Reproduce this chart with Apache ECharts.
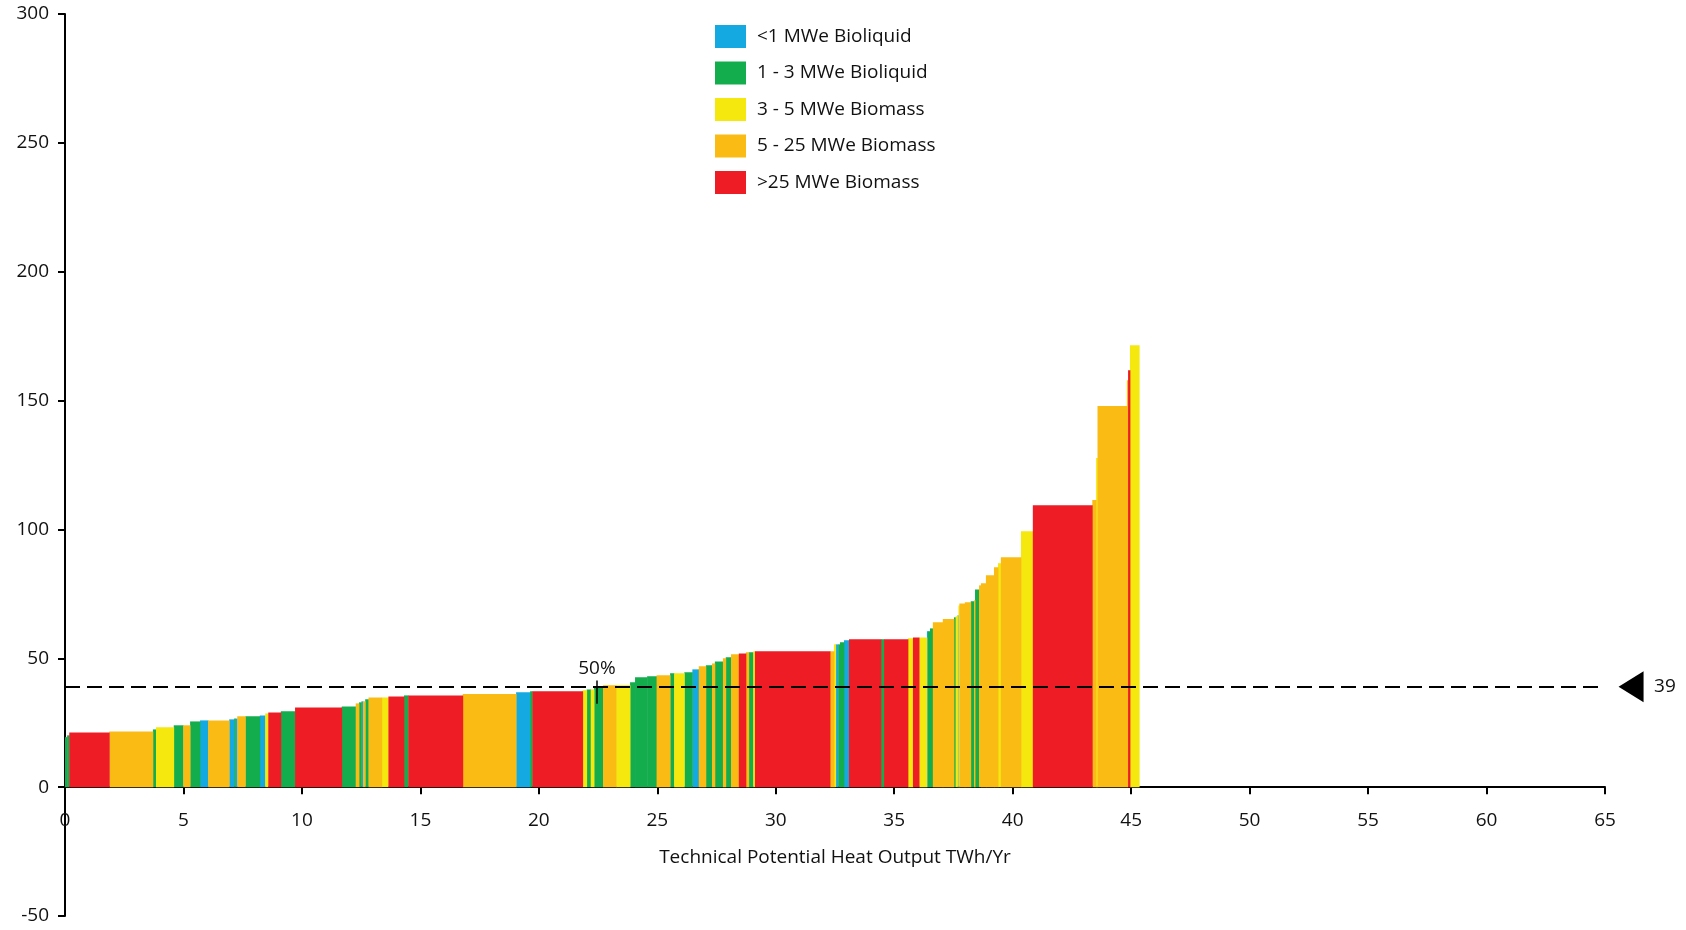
<!DOCTYPE html>
<html>
<head>
<meta charset="utf-8">
<script src="https://cdn.jsdelivr.net/npm/echarts@6/dist/echarts.min.js"></script>
<style>
  html, body { margin: 0; padding: 0; background: #fff; }
  #chart { width: 1686px; height: 930px; }
</style>
</head>
<body>
<div id="chart"></div>
<script>
// plant size bands
var categories = ['<1 MWe Bioliquid', '1 - 3 MWe Bioliquid', '3 - 5 MWe Biomass', '5 - 25 MWe Biomass', '>25 MWe Biomass'];
var colors = ['#14a9e0', '#14ad4e', '#f4e80f', '#fbbb15', '#ed1c25'];

// each band: heat output (TWh/Yr) = bar width, cost = bar height, type = category index
var widths = [
  0.09, 0.09, 1.69, 1.84, 0.13, 0.75, 0.40, 0.29, 0.42, 0.34,
  0.89, 0.21, 0.04, 0.09, 0.34, 0.61, 0.23, 0.13, 0.53, 0.60,
  1.97, 0.59, 0.14, 0.10, 0.07, 0.09, 0.14, 0.56, 0.28, 0.66,
  0.18, 2.30, 2.25, 0.59, 0.10, 2.12, 0.17, 0.17, 0.14, 0.38,
  0.55, 0.59, 0.21, 0.51, 0.40, 0.57, 0.17, 0.43, 0.34, 0.27,
  0.30, 0.26, 0.12, 0.34, 0.12, 0.22, 0.33, 0.30, 0.12, 0.19,
  0.07, 3.17, 0.17, 0.07, 0.11, 0.07, 0.17, 0.21, 1.35, 0.13,
  1.01, 0.21, 0.26, 0.33, 0.04, 0.09, 0.12, 0.42, 0.47, 0.07,
  0.08, 0.04, 0.04, 0.23, 0.25, 0.14, 0.04, 0.17, 0.08, 0.21,
  0.34, 0.17, 0.12, 0.85, 0.50, 2.51, 0.16, 0.06, 1.24, 0.05,
  0.08, 0.39
];
var heights = [
  19.4, 20.1, 21.2, 21.6, 22.4, 23.2, 24.0, 24.0, 25.5, 25.9,
  25.9, 26.3, 26.6, 26.6, 27.5, 27.5, 27.8, 28.6, 29.0, 29.4,
  30.9, 31.3, 32.5, 32.9, 33.3, 33.3, 34.1, 34.8, 34.8, 35.2,
  35.6, 35.6, 36.1, 36.8, 37.2, 37.2, 37.6, 37.9, 37.9, 38.7,
  39.5, 39.5, 40.7, 42.6, 43.0, 43.4, 44.2, 44.2, 44.6, 45.7,
  46.9, 47.3, 48.0, 48.8, 50.0, 50.4, 51.6, 51.9, 52.3, 52.3,
  52.7, 52.7, 52.7, 55.4, 55.4, 55.4, 56.2, 57.0, 57.4, 57.4,
  57.4, 57.8, 58.1, 58.1, 60.5, 60.5, 61.6, 64.0, 65.2, 65.9,
  66.3, 66.7, 70.5, 71.3, 71.7, 72.1, 72.5, 76.7, 78.3, 79.1,
  82.2, 85.3, 86.9, 89.2, 99.3, 109.4, 111.4, 127.7, 147.9, 157.9,
  161.8, 171.5
];
var types = [
  1, 1, 4, 3, 1, 2, 1, 3, 1, 0,
  3, 0, 1, 0, 3, 1, 0, 2, 4, 1,
  4, 1, 3, 1, 0, 3, 1, 3, 2, 4,
  1, 4, 3, 0, 1, 4, 2, 1, 2, 1,
  3, 2, 1, 1, 1, 3, 1, 2, 1, 0,
  3, 1, 3, 1, 3, 1, 3, 4, 3, 1,
  2, 4, 3, 2, 0, 1, 1, 0, 4, 1,
  4, 2, 4, 2, 0, 1, 1, 3, 3, 1,
  2, 0, 2, 3, 3, 1, 3, 1, 3, 3,
  3, 3, 2, 3, 2, 4, 3, 2, 3, 3,
  4, 2
];

var yTicks = { min: -50, max: 300, step: 50 };
var xTicks = { min: 0, max: 65, step: 5 };
var averageCost = 39;
var medianOutput = 22.45;

var font = 'Open Sans';
var fontSize = 19;
var textColor = '#111';

var gridTop = 14, gridBottom = 14;
// x axis sits on the zero line: shift it up from the grid bottom by the -50..0 span
var plotHeight = 930 - gridTop - gridBottom;
var zeroOffset = -plotHeight * (0 - yTicks.min) / (yTicks.max - yTicks.min);

// stack the bands side by side along x
var bandData = [[], [], [], [], []];
var pos = 0;
for (var i = 0; i < widths.length; i++) {
    bandData[types[i]].push([pos, pos + widths[i], heights[i]]);
    pos += widths[i];
}

var renderBand = function (params, api) {
    var p0 = api.coord([api.value(0), 0]);
    var p1 = api.coord([api.value(1), api.value(2)]);
    return {
        type: 'rect',
        shape: { x: p0[0], y: p1[1], width: p1[0] - p0[0] + 0.4, height: p0[1] - p1[1] },
        style: { fill: api.visual('color') }
    };
};

var series = categories.map(function (name, k) {
    return {
        name: name,
        type: 'custom',
        renderItem: renderBand,
        itemStyle: { color: colors[k] },
        encode: { x: [0, 1], y: 2 },
        data: bandData[k],
        z: 2
    };
});

// dashed average line and the 50% marker
series.push({
    type: 'custom',
    renderItem: function () { return null; },
    data: [],
    z: 5,
    markLine: {
        silent: true,
        symbol: ['none', 'none'],
        animation: false,
        data: [
            [
                { coord: [xTicks.min, averageCost], lineStyle: { color: '#000', width: 2, type: [15, 7] }, label: { show: false } },
                { coord: [xTicks.max, averageCost] }
            ],
            [
                { coord: [medianOutput, 32.4], lineStyle: { color: '#000', width: 1.5, type: 'solid' },
                  label: { show: true, position: 'end', formatter: '50%', distance: 2, color: textColor, fontFamily: font, fontSize: fontSize } },
                { coord: [medianOutput, 41.4] }
            ]
        ]
    }
});

var myChart = echarts.init(document.getElementById('chart'));
myChart.setOption({
    animation: false,
    color: colors,
    textStyle: { fontFamily: font },
    grid: { left: 65, right: 81, top: gridTop, bottom: gridBottom, outerBoundsMode: 'none', containLabel: false },
    legend: {
        orient: 'vertical',
        left: 715,
        top: 25,
        padding: 0,
        itemWidth: 31,
        itemHeight: 23,
        itemGap: 13.5,
        selectedMode: false,
        icon: 'rect',
        data: categories,
        textStyle: { color: textColor, fontFamily: font, fontSize: fontSize, padding: [0, 0, 0, 6] }
    },
    xAxis: {
        type: 'value',
        min: xTicks.min,
        max: xTicks.max,
        interval: xTicks.step,
        offset: zeroOffset,
        name: 'Technical Potential Heat Output TWh/Yr',
        nameLocation: 'middle',
        nameGap: 61,
        nameTextStyle: { color: textColor, fontFamily: font, fontSize: fontSize },
        axisLine: { onZero: false, lineStyle: { color: '#000', width: 2 } },
        axisTick: { length: 7, lineStyle: { color: '#000', width: 2 } },
        axisLabel: { margin: 24, color: textColor, fontFamily: font, fontSize: fontSize },
        splitLine: { show: false }
    },
    yAxis: {
        type: 'value',
        min: yTicks.min,
        max: yTicks.max,
        interval: yTicks.step,
        axisLine: { show: true, onZero: false, lineStyle: { color: '#000', width: 2 } },
        axisTick: { show: true, length: 7, lineStyle: { color: '#000', width: 2 } },
        axisLabel: { margin: 16, color: textColor, fontFamily: font, fontSize: fontSize },
        splitLine: { show: false }
    },
    series: series
});

// arrow + value tag sitting just past the right end of the average line
var tip = myChart.convertToPixel({ xAxisIndex: 0, yAxisIndex: 0 }, [66.1, averageCost]);
myChart.setOption({
    graphic: [
        {
            type: 'polygon',
            shape: { points: [[tip[0] - 12.5, tip[1]], [tip[0] + 12.5, tip[1] - 15.5], [tip[0] + 12.5, tip[1] + 15.5]] },
            style: { fill: '#000' }
        },
        {
            type: 'text',
            x: tip[0] + 23,
            y: tip[1],
            style: { text: String(averageCost), fill: textColor, font: fontSize + 'px "Open Sans"', verticalAlign: 'middle' }
        }
    ]
});
window.onresize = myChart.resize;
</script>
</body>
</html>
